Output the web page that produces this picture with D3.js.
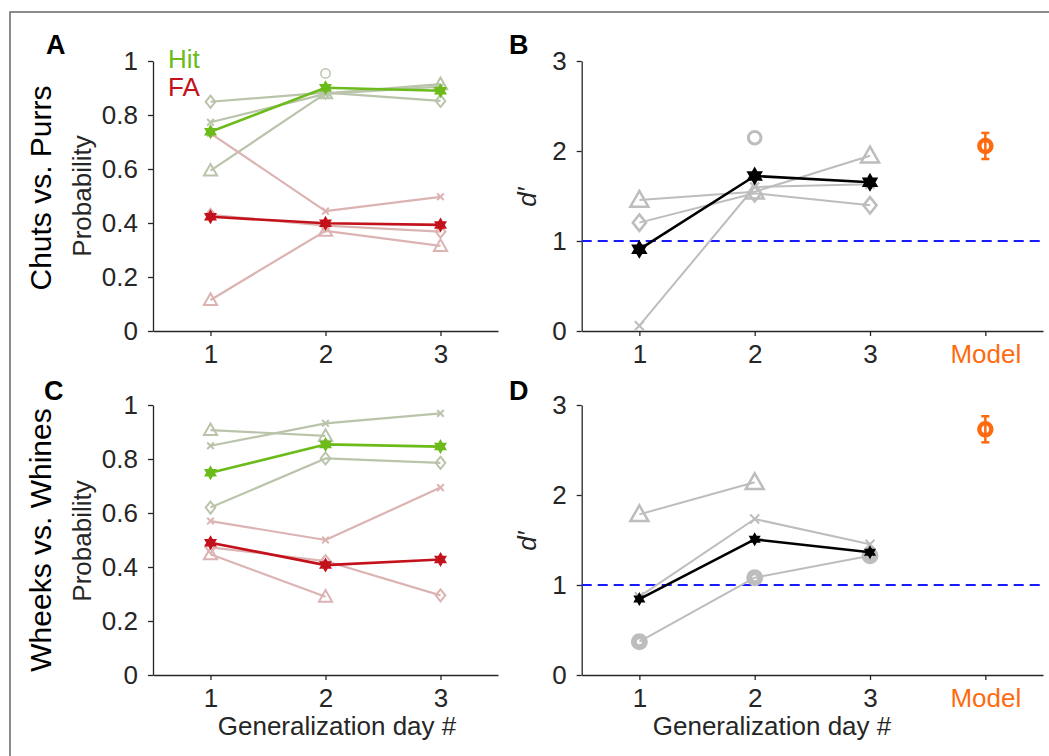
<!DOCTYPE html>
<html>
<head>
<meta charset="utf-8">
<script src="https://cdn.jsdelivr.net/npm/d3@7"></script>
<style>
  body { margin: 0; background: #fff; }
  svg { display: block; font-family: 'Liberation Sans', Arial, sans-serif; }
</style>
</head>
<body>
<div id="chart"></div>
<script>
// ---- data ----
const days = [1, 2, 3];
const probTicks = [0, 0.2, 0.4, 0.6, 0.8, 1];
const dTicks = [0, 1, 2, 3];
const xTickLabels = ['1', '2', '3', 'Model'];
const subjects = ['S1', 'S2', 'S3', 'S4'];

// Chuts vs. Purrs
const chutsHitMean = [0.738, 0.901, 0.89];
const chutsFaMean = [0.423, 0.399, 0.393];
const chutsHit = [
  [0.594, 0.88, 0.914],
  [0.849, 0.883, 0.852],
  [0.773, 0.878, 0.905],
  [null, 0.954, null]
];
const chutsFa = [
  [0.115, 0.371, 0.315],
  [0.43, 0.39, 0.368],
  [0.732, 0.444, 0.497],
  [null, null, null]
];
const chutsDprime = [
  [1.456, 1.548, 1.948],
  [1.204, 1.53, 1.396],
  [0.059, 1.6, 1.63],
  [null, 2.148, null]
];
const chutsDprimeMean = [0.907, 1.722, 1.652];
const chutsModel = 2.056;
const chutsModelErr = 0.145;

// Wheeks vs. Whines
const wheeksHitMean = [0.749, 0.854, 0.846];
const wheeksFaMean = [0.49, 0.407, 0.428];
const wheeksHit = [
  [0.907, 0.886, null],
  [0.62, 0.802, 0.786],
  [0.849, 0.932, 0.969]
];
const wheeksFa = [
  [0.447, 0.29, null],
  [0.473, 0.422, 0.295],
  [0.57, 0.5, 0.694]
];
const wheeksDprime = [
  [1.785, 2.141, null],
  [0.37, 1.081, 1.326],
  [0.87, 1.733, 1.452]
];
const wheeksDprimeMean = [0.844, 1.507, 1.363];
const wheeksModel = 2.73;
const wheeksModelErr = 0.145;

// ---- styles ----
const C = {
  axis: '#262626',
  hit: '#6cbb1a',
  fa: '#c3121b',
  hitLight: '#b9c4ab',
  faLight: '#dcb3b3',
  gray: '#bdbdbd',
  blue: '#1a1aff',
  orange: '#ff6a10'
};
const FONT = 26;

const W = 1049, H = 756;
const svg = d3.select('#chart').append('svg')
  .attr('width', W)
  .attr('height', H);

// outer frame
svg.append('rect')
  .attr('x', 10).attr('y', 12)
  .attr('width', 1200).attr('height', 900)
  .attr('fill', 'none')
  .attr('stroke', '#666')
  .attr('stroke-width', 1.5);

// marker paths
function hexagram(r) {
  const a = r * 0.866, b = r * 0.5;
  return `M0,${-r}L${a},${b}L${-a},${b}ZM0,${r}L${-a},${-b}L${a},${-b}Z`;
}
function drawMarker(g, type, x, y, color, size, sw) {
  if (type === 'triangle') {
    const s = size;
    g.append('path')
      .attr('d', `M${x},${y - s * 0.6}L${x + s * 0.6},${y + s * 0.45}L${x - s * 0.6},${y + s * 0.45}Z`)
      .attr('fill', 'none').attr('stroke', color).attr('stroke-width', sw);
  } else if (type === 'diamond') {
    const s = size * 0.55;
    g.append('path')
      .attr('d', `M${x},${y - s}L${x + s * 0.8},${y}L${x},${y + s}L${x - s * 0.8},${y}Z`)
      .attr('fill', 'none').attr('stroke', color).attr('stroke-width', sw);
  } else if (type === 'cross') {
    const s = size * 0.3;
    g.append('path')
      .attr('d', `M${x - s},${y - s}L${x + s},${y + s}M${x - s},${y + s}L${x + s},${y - s}`)
      .attr('stroke', color).attr('stroke-width', 2);
  } else if (type === 'circle') {
    g.append('circle')
      .attr('cx', x).attr('cy', y).attr('r', size * 0.42)
      .attr('fill', 'none').attr('stroke', color).attr('stroke-width', size > 12 ? 3 : 1.5);
  } else if (type === 'bigcircle') {
    g.append('circle')
      .attr('cx', x).attr('cy', y).attr('r', 5.5)
      .attr('fill', 'none').attr('stroke', color).attr('stroke-width', 6);
  } else if (type === 'hexagram') {
    g.append('path')
      .attr('d', hexagram(size / 2))
      .attr('transform', `translate(${x},${y})`)
      .attr('fill', color).attr('stroke', color).attr('stroke-width', 1.5);
  }
}

function drawSeries(g, x, y, values, color, width, marker, msize, msw) {
  const pts = days.map((d, i) => [d, values[i]]).filter(p => p[1] != null);
  const line = d3.line().x(p => x(p[0])).y(p => y(p[1]));
  if (pts.length > 1) {
    g.append('path')
      .attr('d', line(pts))
      .attr('fill', 'none')
      .attr('stroke', color)
      .attr('stroke-width', width)
      .attr('stroke-linejoin', 'round');
  }
  pts.forEach(p => drawMarker(g, marker, x(p[0]), y(p[1]), color, msize, msw || 2));
}

function styleAxis(ax) {
  ax.select('.domain').attr('stroke', C.axis).attr('stroke-width', 1.3);
  ax.selectAll('.tick line').attr('stroke', C.axis).attr('stroke-width', 1.3);
  ax.selectAll('.tick text')
    .attr('fill', C.axis)
    .style('font-size', FONT + 'px')
    .style('font-family', "'Liberation Sans', Arial, sans-serif");
}

function axes(g, x, y, ticks, fmt) {
  const ax = g.append('g')
    .attr('transform', `translate(0,${y.range()[0]})`)
    .call(d3.axisBottom(x).tickValues(x.domain()[1] > 4 ? [1, 2, 3, 4] : days)
      .tickFormat((d, i) => xTickLabels[i])
      .tickSize(5).tickSizeOuter(0).tickPadding(9));
  styleAxis(ax);
  ax.selectAll('.tick text').filter(d => d === 4).attr('fill', C.orange);
  const ay = g.append('g')
    .attr('transform', `translate(${x.range()[0]},0)`)
    .call(d3.axisLeft(y).tickValues(ticks).tickFormat(fmt)
      .tickSize(5).tickSizeOuter(0).tickPadding(10));
  styleAxis(ay);
}

const subjMarkersProb = ['triangle', 'diamond', 'cross', 'circle'];

function probPanel(top, hitSubj, faSubj, hitMean, faMean) {
  const x = d3.scaleLinear().domain([0.5, 3.5]).range([153, 498]);
  const y = d3.scaleLinear().domain([0, 1]).range([top + 270, top]);
  const g = svg.append('g');
  axes(g, x, y, probTicks, d => d3.format('')(d));
  hitSubj.forEach((v, i) => drawSeries(g, x, y, v, C.hitLight, 2.2, subjMarkersProb[i], 11));
  faSubj.forEach((v, i) => drawSeries(g, x, y, v, C.faLight, 2.2, subjMarkersProb[i], 11));
  drawSeries(g, x, y, faMean, C.fa, 2.6, 'hexagram', 12);
  drawSeries(g, x, y, hitMean, C.hit, 2.6, 'hexagram', 12);
}

function dPanel(top, subj, mean, model, modelErr, markers, meanSize) {
  const x = d3.scaleLinear().domain([0.5, 4.5]).range([581.7, 1043]);
  const y = d3.scaleLinear().domain([0, 3]).range([top + 270, top]);
  const g = svg.append('g');
  axes(g, x, y, dTicks, d => d);
  g.append('line')
    .attr('x1', x.range()[0]).attr('x2', x.range()[1])
    .attr('y1', y(1)).attr('y2', y(1))
    .attr('stroke', C.blue).attr('stroke-width', 2)
    .attr('stroke-dasharray', '10,6');
  subj.forEach((v, i) => drawSeries(g, x, y, v, C.gray, 2, markers[i], 15, 2.5));
  drawSeries(g, x, y, mean, '#000', 2.6, 'hexagram', meanSize);
  // model point with error bar
  const mx = x(4);
  g.append('line')
    .attr('x1', mx).attr('x2', mx)
    .attr('y1', y(model - modelErr)).attr('y2', y(model + modelErr))
    .attr('stroke', C.orange).attr('stroke-width', 2.5);
  [model - modelErr, model + modelErr].forEach(v => {
    g.append('line')
      .attr('x1', mx - 4).attr('x2', mx + 4)
      .attr('y1', y(v)).attr('y2', y(v))
      .attr('stroke', C.orange).attr('stroke-width', 2.5);
  });
  g.append('circle')
    .attr('cx', mx).attr('cy', y(model)).attr('r', 6)
    .attr('fill', 'none').attr('stroke', C.orange).attr('stroke-width', 4.5);
}

probPanel(61, chutsHit, chutsFa, chutsHitMean, chutsFaMean);
dPanel(61, chutsDprime, chutsDprimeMean, chutsModel, chutsModelErr,
  ['triangle', 'diamond', 'cross', 'circle'], 16);
probPanel(405, wheeksHit, wheeksFa, wheeksHitMean, wheeksFaMean);
dPanel(405, wheeksDprime, wheeksDprimeMean, wheeksModel, wheeksModelErr,
  ['triangle', 'bigcircle', 'cross'], 11);

// ---- labels ----
function label(txt, x, y, opts = {}) {
  const t = svg.append('text')
    .attr('x', x).attr('y', y)
    .attr('fill', opts.color || C.axis)
    .style('font-size', (opts.size || FONT) + 'px')
    .attr('text-anchor', opts.anchor || 'start')
    .text(txt);
  if (opts.bold) t.style('font-weight', 'bold').attr('fill', '#000');
  if (opts.italic) t.style('font-style', 'italic');
  if (opts.rotate) {
    t.attr('transform', `rotate(-90,${x},${y})`).attr('dominant-baseline', 'central');
  }
  return t;
}

label('A', 46, 54, { bold: true, size: 27 });
label('B', 509, 54, { bold: true, size: 27 });
label('C', 44, 400, { bold: true, size: 27 });
label('D', 509, 400, { bold: true, size: 27 });

label('Hit', 168, 68, { color: C.hit });
label('FA', 168, 96, { color: C.fa });

label('Chuts vs. Purrs', 40, 188, { rotate: true, anchor: 'middle', size: 30, color: '#000' });
label('Wheeks vs. Whines', 40, 540, { rotate: true, anchor: 'middle', size: 30, color: '#000' });
label('Probability', 82, 196, { rotate: true, anchor: 'middle' });
label('Probability', 82, 541, { rotate: true, anchor: 'middle' });
label('d\u2032', 527, 197, { rotate: true, anchor: 'middle', italic: true });
label('d\u2032', 527, 541, { rotate: true, anchor: 'middle', italic: true });

label('Generalization day #', 337, 735, { anchor: 'middle' });
label('Generalization day #', 772, 735, { anchor: 'middle' });
</script>
</body>
</html>
